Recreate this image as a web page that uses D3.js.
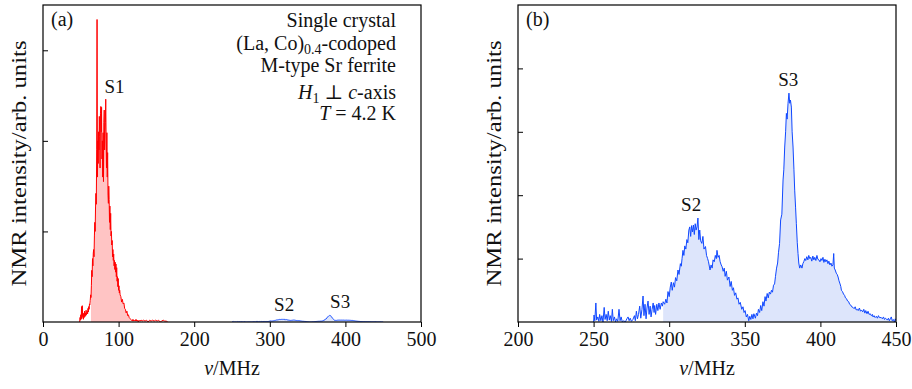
<!DOCTYPE html>
<html>
<head>
<meta charset="utf-8">
<script src="https://cdn.jsdelivr.net/npm/d3@7"></script>
<style>
  body { margin: 0; background: #fff; }
  svg text { font-family: "Liberation Serif", "DejaVu Serif", serif; fill: #111; }
</style>
</head>
<body>
<div id="chart"></div>
<script>
var width = 912,
    height = 389;

// ---- data (MHz, intensity) ----
// S1 line, panel (a) units
var s1Spectrum = [
  [48.5,0],[49,0.05],[49.5,0.02],[50,0.08],[50.5,0.03],[51,0.17],[51.5,0.04],[52,0.18],[52.5,0.06],
  [53,0.1],[53.5,0.03],[54,0.09],[54.5,0.05],[55,0.12],[55.5,0.06],[56,0.1],[56.5,0.07],[57,0.13],
  [57.5,0.08],[58,0.1],[58.5,0.12],[59,0.09],[59.5,0.15],[60,0.11],[60.5,0.17],[61,0.14],[61.5,0.2],
  [62,0.19],[62.5,0.24],[63,0.3],[63.5,0.27],[64,0.4],[64.5,0.57],[65,0.5],[65.5,0.7],[66,0.62],
  [66.5,0.76],[67,0.8],[67.5,0.72],[68,0.95],[68.5,1.1],[69,1.0],[69.5,1.27],[70,1.42],[70.5,1.3],
  [71,1.9],[71.5,3.34],[72,1.6],[72.5,2.0],[73,1.75],[73.5,2.1],[74,1.9],[74.5,2.27],[75,2.05],
  [75.5,1.7],[76,2.3],[76.5,2.38],[77,2.1],[77.5,2.37],[78,1.8],[78.5,2.0],[79,1.6],[79.5,2.09],
  [80,1.55],[80.5,2.2],[81,2.34],[81.5,1.9],[82,2.1],[82.5,2.2],[83,2.46],[83.5,2.0],[84,1.7],
  [84.5,2.09],[85,1.6],[85.5,1.87],[86,1.4],[86.5,1.31],[87,1.5],[87.5,1.35],[88,1.1],[88.5,1.28],
  [89,1.02],[89.5,1.2],[90,0.95],[90.5,1.0],[91,0.85],[91.5,0.9],[92,0.72],[92.5,0.8],[93,0.68],
  [93.5,0.75],[94,0.62],[94.5,0.68],[95,0.58],[95.5,0.66],[96,0.55],[96.5,0.64],[97,0.5],[97.5,0.6],
  [98,0.45],[98.5,0.5],[99,0.39],[99.5,0.48],[100,0.35],[100.5,0.4],[101,0.32],[101.5,0.35],
  [102,0.3],[103,0.28],[104,0.22],[105,0.25],[106,0.2],[107,0.21],[108,0.15],[109,0.14],[110,0.1],
  [111,0.12],[112,0.07],[113,0.08],[114,0.05],[115,0.04],[116,0.03],[117,0.02],[118,0.01],
  [119,0.03],[120,0.01],[121,0.02],[122,0.01],[123,0.03],[124,0.01],[125,0.02],[126,0],[127,0.02],
  [128,0.01],[130,0.02],[131,0.01],[133,0.02],[135,0.01],[137,0.02],[139,0],[141,0.02],[143,0.01],
  [145,0.02],[147,0.01],[149,0.02],[151,0.01],[153,0.02],[155,0],[157,0.01],[159,0.02],[161,0.01],
  [163,0.01],[165,0]
];
var s1FillRange = [63.5, 116];

// S2 + S3 lines, panel (b) units
var s23Spectrum = [
  [250,0],[250.3,0.11],[250.8,0.02],[251.5,0.3],[252,0.03],[252.8,0.08],[253.5,0.01],[254,0.12],
  [254.8,0.02],[255.5,0.1],[256.2,0],[257,0.23],[257.6,0.04],[258.3,0.12],[259,0.02],[259.7,0.17],
  [260.4,0.03],[261,0.1],[261.8,0.01],[262.4,0.2],[263,0.02],[263.8,0.08],[264.5,0],[265.2,0.05],
  [266,0.01],[266.8,0.2],[267.5,0.02],[268.2,0.08],[269,0],[270,0.02],[271,0],[272,0.05],
  [272.8,0.08],[273.5,0.02],[274.2,0.06],[275,0.01],[276,0.04],[277,0.1],[277.6,0.02],[278.3,0.17],
  [279,0.05],[279.7,0.12],[280.5,0.25],[281.2,0.06],[282,0.2],[282.7,0.41],[283.3,0.1],[284,0.28],
  [284.7,0.05],[285.3,0.22],[286,0.33],[286.7,0.12],[287.4,0.25],[288,0.08],[288.7,0.2],[289.4,0.3],
  [290,0.15],[290.4,0.26],[291,0.12],[291.8,0.28],[292.5,0.18],[293.2,0.3],[294,0.2],[294.8,0.3],
  [295.5,0.25],[296,0.32],[297,0.28],[297.8,0.36],[298.5,0.3],[299.2,0.48],[300,0.4],[300.7,0.55],
  [301.4,0.63],[302,0.5],[302.8,0.62],[303.5,0.55],[304.2,0.7],[305,0.65],[305.8,0.82],[306.5,0.75],
  [307.4,0.92],[308,0.88],[308.5,1.0],[309.1,1.13],[309.7,1.05],[310.3,1.2],[311,1.15],[311.7,1.3],
  [312.3,1.25],[313,1.45],[313.6,1.5],[314.2,1.35],[314.8,1.52],[315.4,1.42],[316,1.53],[316.6,1.38],
  [317.2,1.55],[317.8,1.45],[318.4,1.5],[319,1.64],[319.6,1.3],[320.2,1.45],[320.8,1.28],[321.6,1.24],
  [322.3,1.35],[323,1.15],[324,1.19],[324.7,1.05],[325.4,1.0],[326,0.95],[327,0.82],[327.7,0.9],
  [328.4,0.85],[329,0.98],[329.8,0.95],[330.5,1.05],[331.2,1.0],[331.6,1.13],[332.3,1.02],[333,1.05],
  [333.7,0.95],[334.4,0.9],[335,0.87],[335.7,0.8],[336.4,0.85],[337,0.72],[337.8,0.8],[338.5,0.66],
  [339.5,0.71],[340.3,0.56],[341,0.64],[341.8,0.5],[342.5,0.54],[343.2,0.42],[344,0.46],[344.8,0.36],
  [345.5,0.38],[346.2,0.28],[347,0.31],[348,0.2],[348.8,0.24],[349.5,0.15],[350.2,0.18],[351,0.08],
  [351.8,0.12],[352.6,0.02],[353.3,0.09],[354,0.04],[354.7,0.12],[355.4,0.05],[356,0.13],[357,0.06],
  [357.7,0.14],[358.4,0.1],[359,0.2],[359.8,0.15],[360.5,0.26],[361.2,0.18],[362,0.32],[362.7,0.25],
  [363.4,0.4],[364,0.33],[364.8,0.45],[365.5,0.38],[366.2,0.47],[367,0.44],[367.6,0.5],[368.3,0.47],
  [369,0.58],[369.7,0.6],[370.3,0.72],[371,0.85],[371.7,0.93],[372.3,1.1],[373,1.24],[373.7,1.61],
  [374.5,1.7],[375.3,2.24],[375.8,2.4],[376.4,2.76],[377,3.0],[377.5,3.29],[378,3.2],[378.6,3.45],
  [379.2,3.61],[379.7,3.45],[380.2,3.5],[380.8,3.39],[381.3,3.0],[381.9,2.76],[382.5,2.4],[383,2.08],
  [383.6,1.8],[384.1,1.55],[384.7,1.25],[385.2,1.08],[385.7,0.93],[386.3,0.85],[387,0.9],[387.8,0.85],
  [388.4,0.92],[389,0.95],[389.7,1.0],[390.3,0.97],[391,1.03],[391.7,0.98],[392.3,1.05],[393,1.0],
  [393.6,1.02],[394.3,0.96],[395,1.04],[395.7,0.98],[396.3,1.02],[397,0.97],[397.7,1.05],[398.3,0.99],
  [399,0.98],[399.7,0.95],[400.4,1.0],[401,0.97],[401.7,1.02],[402.3,0.94],[403,0.99],[403.6,0.95],
  [404.3,0.98],[405,0.92],[405.6,0.96],[406.3,0.9],[407,0.93],[407.6,0.88],[408.3,0.9],[408.8,1.08],
  [409.2,0.85],[409.8,0.82],[410.5,0.77],[411.1,0.75],[411.7,0.71],[412.3,0.65],[413,0.6],[413.5,0.56],
  [413.9,0.5],[414.6,0.48],[415.3,0.44],[416,0.42],[416.6,0.38],[417.2,0.37],[418,0.33],[418.7,0.32],
  [419.3,0.28],[420,0.27],[420.7,0.24],[421.6,0.23],[422.3,0.21],[423,0.24],[423.7,0.19],[424.4,0.2],
  [425,0.18],[425.8,0.22],[426.5,0.17],[427.1,0.19],[428,0.16],[428.7,0.2],[429.4,0.14],[430,0.18],
  [430.8,0.13],[431.5,0.17],[432.2,0.12],[433,0.13],[433.7,0.1],[434.4,0.12],[434.8,0.08],[435.5,0.1],
  [436.2,0.07],[437,0.09],[437.7,0.06],[438.4,0.1],[439,0.07],[440.3,0.07],[441,0.05],[441.7,0.08],
  [442.4,0.04],[443,0.06],[443.6,0.05],[444.3,0.03],[445,0.06],[445.6,0.02],[446.2,0.05],[446.9,0.08],
  [447.5,0.02],[448.2,0.04],[449,0.0],[449.5,0.05],[450,0.02]
];
var s23FillRange = [296, 450];
// S2/S3 relative to S1 when shown on panel (a)
var s23ScaleInA = 0.02;

var xTicksA = [0, 100, 200, 300, 400, 500];
var xTicksB = [200, 250, 300, 350, 400, 450];
var yTicksA = [1, 2, 3];
var yTicksB = [1, 2, 3, 4];

var peakLabelsA = [{t: "S1", f: 94.5, v: 2.53}, {t: "S2", f: 319, v: 0.125}, {t: "S3", f: 393, v: 0.155}];
var peakLabelsB = [{t: "S2", f: 314.5, v: 1.75}, {t: "S3", f: 378.7, v: 3.73}];

var red = "#ff0000", redFill = "#ffc4c4";
var blue = "#1048ff", blueFill = "#dde5fb";

var svg = d3.select("#chart").append("svg")
    .attr("width", width)
    .attr("height", height);

var plotTop = 5, plotBottom = 322;

function panel(id, x0, x1, xDomain, yDomain, xTicks, yTicks, tag) {
    var p = {};
    p.x = d3.scaleLinear().domain(xDomain).range([x0, x1]);
    p.y = d3.scaleLinear().domain(yDomain).range([plotBottom, plotTop]);
    p.g = svg.append("g");
    svg.append("clipPath").attr("id", "clip" + id)
        .append("rect").attr("x", x0).attr("y", plotTop).attr("width", x1 - x0).attr("height", plotBottom - plotTop);
    p.plot = p.g.append("g").attr("clip-path", "url(#clip" + id + ")");

    // x axis, ticks going down
    var xAxis = d3.axisBottom(p.x).tickValues(xTicks).tickSize(5).tickPadding(5).tickFormat(d3.format("d"));
    var gx = p.g.append("g").attr("transform", "translate(0," + plotBottom + ")").call(xAxis);
    gx.select(".domain").remove();
    gx.selectAll("text").attr("font-size", 20).attr("font-family", "Liberation Serif").attr("fill", "#111");
    gx.selectAll("line").attr("stroke", "#000");

    // y axis, ticks pointing inward, no labels
    var yAxis = d3.axisRight(p.y).tickValues(yTicks).tickSize(5).tickFormat("");
    var gy = p.g.append("g").attr("transform", "translate(" + x0 + ",0)").call(yAxis);
    gy.select(".domain").remove();
    gy.selectAll("line").attr("stroke", "#000");

    p.frame = function () {
        p.g.append("rect")
            .attr("x", x0).attr("y", plotTop).attr("width", x1 - x0).attr("height", plotBottom - plotTop)
            .attr("fill", "none").attr("stroke", "#000").attr("stroke-width", 1.2);
    };

    p.g.append("text")
        .attr("x", x0 + 8).attr("y", 26)
        .attr("font-size", 20)
        .text(tag);

    p.g.append("text")
        .attr("x", (x0 + x1) / 2).attr("y", 375)
        .attr("text-anchor", "middle")
        .attr("font-size", 20)
        .call(function (t) {
            t.append("tspan").attr("font-style", "italic").text("ν");
            t.append("tspan").text("/MHz");
        });

    p.g.append("text")
        .attr("transform", "translate(" + (x0 - 17) + "," + ((plotTop + plotBottom) / 2) + ") rotate(-90)")
        .attr("text-anchor", "middle")
        .attr("font-size", 20)
        .attr("textLength", 246)
        .attr("lengthAdjust", "spacingAndGlyphs")
        .text("NMR intensity/arb. units");
    return p;
}

function drawSpectrum(p, data, fillRange, k, stroke, fill) {
    var fillData = data.filter(function (d) { return d[0] >= fillRange[0] && d[0] <= fillRange[1]; });
    var area = d3.area()
        .x(function (d) { return p.x(d[0]); })
        .y0(p.y(0))
        .y1(function (d) { return p.y(d[1] * k); });
    var line = d3.line()
        .x(function (d) { return p.x(d[0]); })
        .y(function (d) { return p.y(d[1] * k); });
    p.plot.append("path").attr("d", area(fillData)).attr("fill", fill);
    p.plot.append("path").attr("d", line(data))
        .attr("fill", "none").attr("stroke", stroke).attr("stroke-width", 1)
        .attr("stroke-linejoin", "round");
}

function peakLabels(p, labels) {
    p.g.selectAll(".pk").data(labels).enter().append("text")
        .attr("x", function (d) { return p.x(d.f); })
        .attr("y", function (d) { return p.y(d.v); })
        .attr("text-anchor", "middle")
        .attr("font-size", 19)
        .text(function (d) { return d.t; });
}

var pa = panel("a", 43, 421, [0, 500], [0, 3.5], xTicksA, yTicksA, "(a)");
var pb = panel("b", 518, 896, [200, 450], [0, 5], xTicksB, yTicksB, "(b)");

drawSpectrum(pa, s23Spectrum, s23FillRange, s23ScaleInA, blue, blueFill);
drawSpectrum(pa, s1Spectrum, s1FillRange, 1, red, redFill);
drawSpectrum(pb, s23Spectrum, s23FillRange, 1, blue, blueFill);
pa.frame();
pb.frame();

peakLabels(pa, peakLabelsA);
peakLabels(pb, peakLabelsB);

// sample description in panel (a)
var note = pa.g.append("g").attr("font-size", 20).attr("text-anchor", "end");
var noteX = 396;
note.append("text").attr("x", noteX).attr("y", 27).text("Single crystal");
note.append("text").attr("x", noteX).attr("y", 50).call(function (t) {
    t.append("tspan").text("(La, Co)");
    t.append("tspan").attr("font-size", 14).attr("dy", 4).text("0.4");
    t.append("tspan").attr("dy", -4).text("-codoped");
});
note.append("text").attr("x", noteX).attr("y", 72).text("M-type Sr ferrite");
note.append("text").attr("x", noteX).attr("y", 99).call(function (t) {
    t.append("tspan").attr("font-style", "italic").text("H");
    t.append("tspan").attr("font-size", 14).attr("dy", 4).text("1");
    t.append("tspan").attr("dy", -4).text(" ⊥ ");
    t.append("tspan").attr("font-style", "italic").text("c");
    t.append("tspan").text("-axis");
});
note.append("text").attr("x", noteX).attr("y", 120).call(function (t) {
    t.append("tspan").attr("font-style", "italic").text("T");
    t.append("tspan").text(" = 4.2 K");
});
</script>
</body>
</html>
